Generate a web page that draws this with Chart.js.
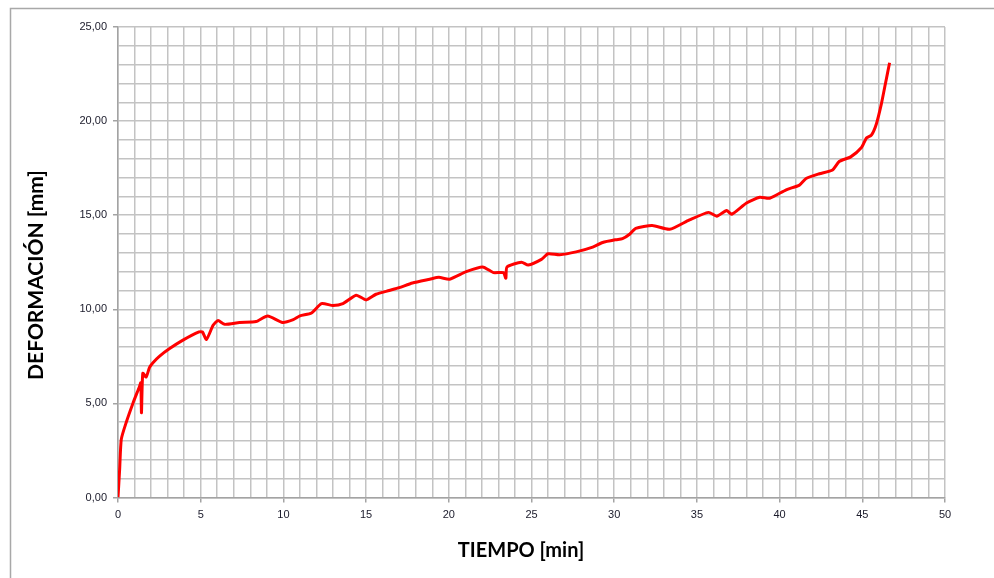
<!DOCTYPE html>
<html>
<head>
<meta charset="utf-8">
<script src="https://cdn.jsdelivr.net/npm/chart.js@4.4.0/dist/chart.umd.min.js"></script>
<style>
  html, body { margin: 0; padding: 0; background: #ffffff; }
  #c { display: block; }
</style>
</head>
<body>
<canvas id="c" width="994" height="578"></canvas>
<script>
// ---- data ----
const timeMin = [
  0, 0.1, 0.2, 0.5, 0.9, 1.3, 1.38, 1.42, 1.5, 1.7, 1.9, 2.1, 2.5, 3.1, 3.9, 4.9, 5.1, 5.35, 5.75, 6.05,
  6.45, 7.35, 8.35, 9.05, 9.95, 10.6, 11.0, 11.7, 12.3, 13.0, 13.6, 14.4, 15.0, 15.6, 16.4, 17.0,
  17.8, 18.85, 19.4, 20.05, 21.05, 22.05, 22.7, 23.3, 23.45, 23.52, 24.4, 24.8, 25.6, 26.0, 26.7,
  27.7, 28.7, 29.3, 30.1, 30.5, 30.95, 31.3, 32.3, 33.35, 34.55, 35.7, 36.2, 36.8, 37.1, 38.0, 38.8,
  39.4, 40.4, 41.2, 41.6, 42.4, 43.2, 43.6, 44.3, 44.95, 45.25, 45.55, 45.85, 46.15, 46.4, 46.65
];
const deformMm = [
  0, 1.5, 3.1, 4.0, 5.0, 5.9, 6.1, 4.5, 6.6, 6.4, 6.9, 7.15, 7.5, 7.9, 8.35, 8.8, 8.8, 8.4, 9.15, 9.4,
  9.2, 9.3, 9.35, 9.65, 9.3, 9.45, 9.65, 9.8, 10.3, 10.2, 10.3, 10.75, 10.5, 10.8, 11.0, 11.15,
  11.4, 11.6, 11.7, 11.6, 12.0, 12.25, 11.95, 11.95, 11.65, 12.25, 12.5, 12.35, 12.65, 12.95, 12.9,
  13.05, 13.3, 13.55, 13.7, 13.75, 14.0, 14.3, 14.45, 14.25, 14.75, 15.15, 14.95, 15.25, 15.05, 15.65, 15.95,
  15.9, 16.35, 16.6, 16.95, 17.2, 17.4, 17.85, 18.1, 18.6, 19.1, 19.25, 19.85, 20.9, 22.0, 23.1
];
const xMajorTicks = [0, 5, 10, 15, 20, 25, 30, 35, 40, 45, 50];
const yMajorTicks = [0, 5, 10, 15, 20, 25];
const xTitle = 'TIEMPO [min]';
const yTitle = 'DEFORMACIÓN [mm]';

const points = timeMin.map((t, i) => ({ x: t, y: deformMm[i] }));

const GRID = '#c3c3c3';
const AXIS = '#a3a3a3';
const LABEL = '#1a1a2a';

const decorPlugin = {
  id: 'decor',
  beforeDraw(chart) {
    const ctx = chart.ctx;
    ctx.save();
    ctx.fillStyle = '#ffffff';
    ctx.fillRect(0, 0, chart.width, chart.height);
    ctx.strokeStyle = '#a8a8a8';
    ctx.lineWidth = 1.5;
    ctx.beginPath();
    ctx.moveTo(10.5, chart.height + 5);
    ctx.lineTo(10.5, 8.5);
    ctx.lineTo(chart.width + 5, 8.5);
    ctx.stroke();
    ctx.restore();
  },
  afterDraw(chart) {
    const ctx = chart.ctx;
    ctx.save();
    ctx.fillStyle = '#000000';
    ctx.textAlign = 'center';
    ctx.textBaseline = 'middle';
    ctx.font = 'bold 20px Lato, "Open Sans", sans-serif';
    ctx.fillText(xTitle, 521, 551);
    ctx.font = 'bold 21px Lato, "Open Sans", sans-serif';
    ctx.translate(36, 275);
    ctx.rotate(-Math.PI / 2);
    ctx.fillText(yTitle, 0, 0);
    ctx.restore();
  }
};

new Chart(document.getElementById('c'), {
  type: 'scatter',
  data: {
    datasets: [{
      data: points,
      showLine: true,
      borderColor: '#ff0000',
      backgroundColor: '#ff0000',
      borderWidth: 3,
      pointRadius: 0,
      tension: 0.2,
      fill: false
    }]
  },
  options: {
    responsive: false,
    animation: false,
    layout: { padding: { left: 0, top: 27, right: 49, bottom: 0 } },
    plugins: { legend: { display: false }, tooltip: { enabled: false } },
    scales: {
      x: {
        type: 'linear', min: 0, max: 50,
        afterFit: s => { s.height = 80.5; },
        afterBuildTicks: s => { s.ticks = Array.from({ length: 51 }, (_, i) => ({ value: i })); },
        border: { color: AXIS, width: 1.5 },
        grid: {
          color: GRID, lineWidth: 1.5, tickLength: 5,
          tickColor: c => (c.tick && xMajorTicks.includes(c.tick.value)) ? AXIS : 'rgba(0,0,0,0)'
        },
        ticks: {
          autoSkip: false, maxRotation: 0, padding: 6, color: LABEL,
          font: { family: 'Liberation Sans, Arial, sans-serif', size: 11 },
          callback: v => xMajorTicks.includes(v) ? String(v) : ''
        }
      },
      y: {
        type: 'linear', min: 0, max: 25,
        afterFit: s => { s.width = 118; },
        afterBuildTicks: s => { s.ticks = Array.from({ length: 26 }, (_, i) => ({ value: i })); },
        border: { color: AXIS, width: 1.5 },
        grid: {
          color: GRID, lineWidth: 1.5, tickLength: 5,
          tickColor: c => (c.tick && yMajorTicks.includes(c.tick.value)) ? AXIS : 'rgba(0,0,0,0)'
        },
        ticks: {
          autoSkip: false, padding: 6, color: LABEL,
          font: { family: 'Liberation Sans, Arial, sans-serif', size: 11 },
          callback: v => yMajorTicks.includes(v) ? v.toFixed(2).replace('.', ',') : ''
        }
      }
    }
  },
  plugins: [decorPlugin]
});
</script>
</body>
</html>
